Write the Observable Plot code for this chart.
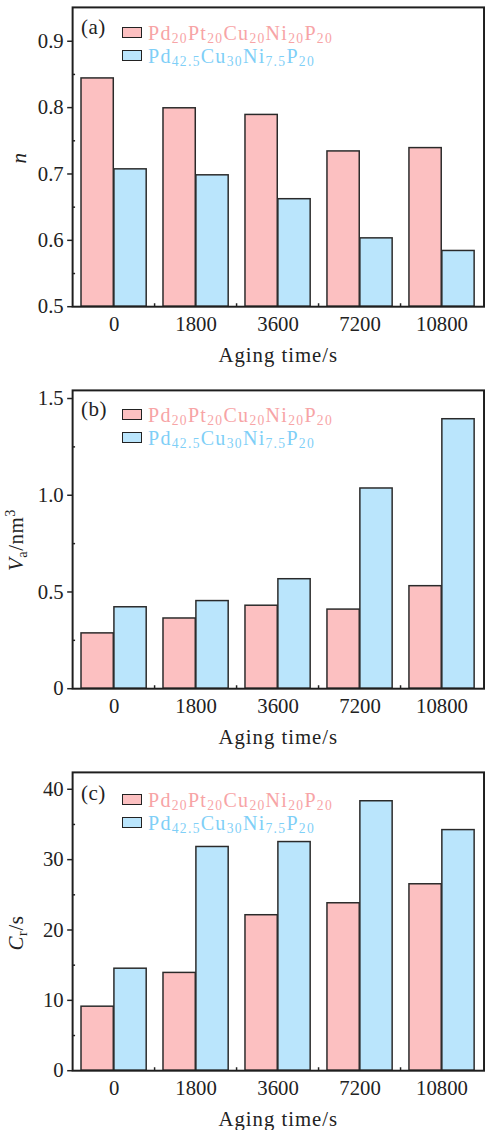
<!DOCTYPE html>
<html><head><meta charset="utf-8">
<script src="https://cdn.jsdelivr.net/npm/d3@7"></script>
<script src="https://cdn.jsdelivr.net/npm/@observablehq/plot@0.6"></script>
<style>
html,body{margin:0;padding:0;background:#fff;overflow:hidden;width:486px;height:1130px;}
.panel{position:relative;width:486px;height:382px;overflow:hidden;}
.panel svg{display:block;position:absolute;left:0;top:0;}
.tag{position:absolute;left:81px;font-family:"Liberation Serif",serif;font-size:21px;color:#222;line-height:21px;letter-spacing:0.5px;}
.leg{position:absolute;left:122px;font-family:"Liberation Serif",serif;font-size:20px;line-height:1;letter-spacing:1.3px;}
.row{display:flex;align-items:center;height:23px;white-space:nowrap;}
.sw{width:18px;height:9px;border:1.5px solid #222;margin-right:6px;flex:none;}
.leg sub{font-size:0.68em;vertical-align:-0.22em;line-height:0;}
.ylab{position:absolute;font-family:"Liberation Serif",serif;font-size:21px;color:#222;transform:translate(-50%,-50%) rotate(-90deg);white-space:nowrap;line-height:1;letter-spacing:0.5px;}
.ylab sub{font-size:0.68em;vertical-align:-0.3em;line-height:0;}
.ylab sup{font-size:0.68em;vertical-align:0.55em;line-height:0;}
</style></head><body><div id="root"></div><script>
// ---- data ----
const times = ["0", "1800", "3600", "7200", "10800"];
const seriesNames = ["Pd20Pt20Cu20Ni20P20", "Pd42.5Cu30Ni7.5P20"];
const nPt  = [0.844, 0.799, 0.789, 0.734, 0.739];
const nCu  = [0.707, 0.698, 0.662, 0.603, 0.584];
const vaPt = [0.286, 0.363, 0.429, 0.409, 0.530];
const vaCu = [0.421, 0.453, 0.566, 1.035, 1.393];
const crPt = [9.1, 13.9, 22.1, 23.8, 26.5];
const crCu = [14.5, 31.8, 32.5, 38.3, 34.2];
const nTicks = [0.5, 0.6, 0.7, 0.8, 0.9];
const nMinor = [0.55, 0.65, 0.75, 0.85];
const vaTicks = [0, 0.5, 1.0, 1.5];
const vaMinor = [0.25, 0.75, 1.25];
const crTicks = [0, 10, 20, 30, 40];
const crMinor = [5, 15, 25, 35];

const pinkFill = "#fcc0c1", blueFill = "#bae5fc";
const pinkText = "#f7a4a6", blueText = "#7fcff7";
const edge = "#2a2a2a";

const legendHTML = [
  "Pd<sub>20</sub>Pt<sub>20</sub>Cu<sub>20</sub>Ni<sub>20</sub>P<sub>20</sub>",
  "Pd<sub>42.5</sub>Cu<sub>30</sub>Ni<sub>7.5</sub>P<sub>20</sub>"
];

function makePanel({tag, pt, cu, domain, ticks, minor, fmt, ylab, ylabX, ylabY, legTop, tagTop, marginTop}) {
  const W = 492, H = 382, ML = 73, MR = 2.5, MB = 72;
  const pi = 0.2, po = 0.1;
  const innerW = W - ML - MR;
  const step = innerW / (times.length - pi + 2 * po);
  const half = step * (1 - pi) / 2;
  const rowsPt = times.map((t, i) => ({time: t, series: seriesNames[0], value: pt[i]}));
  const rowsCu = times.map((t, i) => ({time: t, series: seriesNames[1], value: cu[i]}));
  const plot = Plot.plot({
    width: W, height: H, marginLeft: ML, marginRight: MR, marginTop, marginBottom: MB,
    style: {fontFamily: "'Liberation Serif', serif", fontSize: "21px", color: "#222", background: "transparent", overflow: "visible"},
    x: {domain: times, paddingInner: pi, paddingOuter: po},
    y: {domain},
    marks: [
      Plot.barY(rowsPt, {x: "time", y1: domain[0], y2: "value", fill: pinkFill, stroke: edge, strokeWidth: 1.5, insetLeft: 0, insetRight: half}),
      Plot.barY(rowsCu, {x: "time", y1: domain[0], y2: "value", fill: blueFill, stroke: edge, strokeWidth: 1.5, insetLeft: half, insetRight: 0}),
      Plot.frame({stroke: "#1e1e1e", strokeWidth: 2}),
      Plot.axisY(ticks, {tickSize: 5, tickPadding: 4, tickFormat: fmt, label: null, strokeWidth: 1.5}),
      Plot.axisY(minor, {tickSize: -3, tickFormat: () => "", label: null, strokeWidth: 1.5}),
      Plot.axisX({tickSize: 0, tickPadding: 10, label: "Aging time/s", labelAnchor: "center", labelOffset: 56})
    ]
  });
  // minor ticks between groups on bottom axis
  const xs = plot.scale("x");
  const yb = H - MB;
  const svg = d3.select(plot);
  for (let i = 0; i < times.length - 1; i++) {
    const xm = xs.apply(times[i]) + xs.bandwidth + (xs.step - xs.bandwidth) / 2;
    svg.append("line").attr("x1", xm).attr("x2", xm).attr("y1", yb).attr("y2", yb - 3)
      .attr("stroke", "#222").attr("stroke-width", 1.5);
  }
  svg.selectAll("[aria-label='x-axis label'] text, [aria-label='x-axis label']").style("letter-spacing", "1px");

  const div = document.createElement("div");
  div.className = "panel";
  div.appendChild(plot);
  const t = document.createElement("div");
  t.className = "tag"; t.style.top = tagTop + "px"; t.textContent = tag;
  div.appendChild(t);
  const leg = document.createElement("div");
  leg.className = "leg"; leg.style.top = legTop + "px";
  leg.innerHTML = `<div class="row"><span class="sw" style="background:${pinkFill}"></span><span style="color:${pinkText}">${legendHTML[0]}</span></div>` +
                  `<div class="row"><span class="sw" style="background:${blueFill}"></span><span style="color:${blueText}">${legendHTML[1]}</span></div>`;
  div.appendChild(leg);
  const yl = document.createElement("div");
  yl.className = "ylab"; yl.style.left = ylabX + "px"; yl.style.top = ylabY + "px";
  yl.innerHTML = ylab;
  div.appendChild(yl);
  return div;
}

const root = document.getElementById("root");
root.appendChild(makePanel({
  tag: "(a)", pt: nPt, cu: nCu, domain: [0.5, 0.951], ticks: nTicks, minor: nMinor,
  fmt: d => d.toFixed(1), ylab: "<i>n</i>", ylabX: 19, ylabY: 158, legTop: 21, tagTop: 17, marginTop: 7
}));
root.appendChild(makePanel({
  tag: "(b)", pt: vaPt, cu: vaCu, domain: [0, 1.542], ticks: vaTicks, minor: vaMinor,
  fmt: d => d === 0 ? "0" : d.toFixed(1), ylab: "<i>V</i><sub>a</sub>/nm<sup>3</sup>", ylabX: 16, ylabY: 158, legTop: 21, tagTop: 17, marginTop: 8
}));
root.appendChild(makePanel({
  tag: "(c)", pt: crPt, cu: crCu, domain: [0, 42.4], ticks: crTicks, minor: crMinor,
  fmt: d => String(d), ylab: "<i>C</i><sub>r</sub>/s", ylabX: 16, ylabY: 169, legTop: 24, tagTop: 19, marginTop: 8
}));
</script></body></html>
